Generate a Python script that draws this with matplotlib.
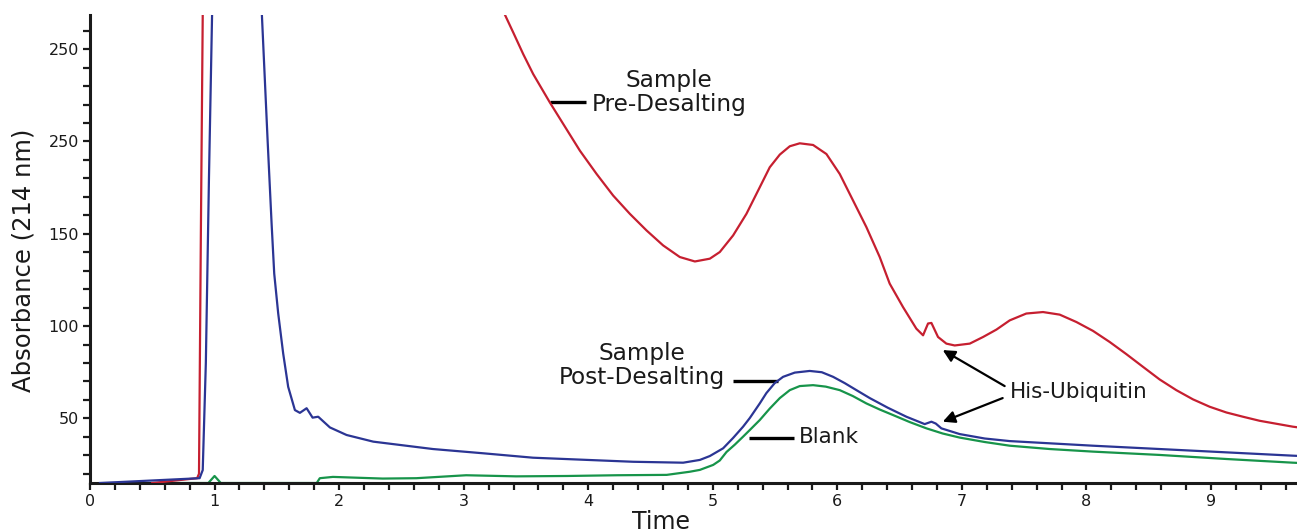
import matplotlib
matplotlib.use("Agg")
import matplotlib.pyplot as plt
from matplotlib.ticker import MultipleLocator, FixedLocator, FixedFormatter

# values (time, absorbance in axis units)
red_t = [0.5, 0.86, 0.875, 0.89, 0.905, 0.93, 2.95, 3.325, 3.398, 3.478, 3.558, 3.692,
         3.799, 3.933, 4.067, 4.2, 4.334, 4.468, 4.601, 4.735, 4.856, 4.976, 5.056,
         5.163, 5.27, 5.377, 5.457, 5.538, 5.618, 5.698, 5.805, 5.912, 6.019, 6.126,
         6.233, 6.34, 6.42, 6.527, 6.634, 6.688, 6.728, 6.755, 6.808, 6.875, 6.942,
         7.063, 7.17, 7.277, 7.384, 7.517, 7.651, 7.785, 7.919, 8.052, 8.186, 8.32,
         8.454, 8.587, 8.721, 8.855, 8.989, 9.123, 9.256, 9.39, 9.657, 9.69]
red_v = [15.0, 17.6, 20, 150, 268.5, 320, 320, 269.5, 259.0, 247.3, 236.5, 221.1,
         209.5, 195.0, 182.4, 170.7, 160.8, 151.8, 143.7, 137.4, 135.0, 136.5, 140.1,
         149.1, 160.8, 175.2, 186.0, 192.9, 197.4, 199.0, 198.1, 193.2, 182.4, 168.0,
         153.6, 137.4, 123.0, 110.3, 98.6, 95.0, 101.4, 101.7, 94.1, 90.5, 89.5,
         90.5, 94.1, 98.1, 103.1, 106.8, 107.6, 106.2, 102.2, 97.4, 91.4, 84.8,
         77.9, 71.1, 65.3, 60.3, 56.3, 53.2, 50.9, 48.7, 45.5, 45.2]

blue_t = [0.08, 0.88, 0.905, 0.93, 0.955, 0.98, 1.0, 1.36, 1.38, 1.426, 1.458, 1.479,
          1.511, 1.551, 1.591, 1.645, 1.685, 1.739, 1.787, 1.832, 1.926, 2.06, 2.274,
          2.753, 3.156, 3.557, 3.958, 4.36, 4.762, 4.896, 4.976, 5.083, 5.163, 5.243,
          5.297, 5.377, 5.43, 5.497, 5.564, 5.658, 5.778, 5.875, 5.966, 6.059, 6.153,
          6.26, 6.404, 6.554, 6.701, 6.755, 6.79, 6.835, 6.982, 7.183, 7.384, 8.052,
          8.855, 9.657, 9.69]
blue_v = [15, 17.6, 22, 80, 180, 268.5, 320, 320, 268.5, 200.4, 155.4, 128.4,
          106.8, 85.1, 67.1, 54.5, 53, 55.5, 50.4, 50.9, 45.1, 41, 37.4,
          33.4, 31.1, 28.7, 27.6, 26.5, 26.0, 27.5, 29.6, 33.8, 39.4, 45.5,
          50.2, 58.1, 63.7, 69.1, 72.5, 74.8, 75.7, 75.0, 72.5, 69.1, 65.3,
          61.0, 55.8, 50.9, 46.9, 48.2, 47.2, 44.6, 41.5, 39.1, 37.7, 35.2,
          32.5, 29.8, 29.7]

green_t = [0.5, 0.95, 1.0, 1.05, 1.82, 1.845, 1.95, 2.35, 2.62, 3.02, 3.42, 3.83, 4.23,
           4.63, 4.815, 4.896, 5.003, 5.056, 5.11, 5.177, 5.243, 5.297, 5.377, 5.457,
           5.538, 5.618, 5.698, 5.805, 5.907, 6.019, 6.124, 6.233, 6.34, 6.447, 6.581,
           6.715, 6.846, 6.982, 7.183, 7.384, 7.705, 8.052, 8.587, 9.123, 9.657, 9.69]
green_v = [15, 15, 18.8, 15, 15, 17.6, 18.3, 17.4, 17.6, 19.2, 18.6, 18.8, 19.2,
           19.4, 21.1, 22.1, 24.8, 27.2, 31.8, 35.8, 40.1, 43.7, 49.1, 55.3,
           61.0, 65.3, 67.5, 68.0, 67.2, 65.3, 62.1, 58.1, 54.8, 51.8, 48.0,
           44.6, 41.8, 39.6, 37.2, 35.2, 33.4, 32.0, 30.2, 28.0, 26.0, 25.9]

ytick_pos = [50, 100, 150, 200, 250]
ytick_labels = ["50", "100", "150", "250", "250"]
xtick_pos = list(range(10))

RED = "#C61F30"
BLUE = "#2B3594"
GREEN = "#17944A"
INK = "#1a1a1a"

fig = plt.figure(figsize=(12.97, 5.32), dpi=100)
ax = fig.add_axes([90 / 1297, 49 / 532, 1 - 90 / 1297, 468 / 532])

ax.plot(red_t, red_v, color=RED, lw=1.6, zorder=3)
ax.plot(blue_t, blue_v, color=BLUE, lw=1.6, zorder=3)
ax.plot(green_t, green_v, color=GREEN, lw=1.6, zorder=2)

ax.set_xlim(0, 9.69)
ax.set_ylim(15, 268.5)

for s in ["top", "right"]:
    ax.spines[s].set_visible(False)
for s in ["left", "bottom"]:
    ax.spines[s].set_linewidth(2.2)
    ax.spines[s].set_color(INK)

ax.xaxis.set_major_locator(FixedLocator(xtick_pos))
ax.xaxis.set_minor_locator(MultipleLocator(0.2))
ax.yaxis.set_major_locator(FixedLocator(ytick_pos))
ax.yaxis.set_major_formatter(FixedFormatter(ytick_labels))
ax.yaxis.set_minor_locator(MultipleLocator(10))
ax.tick_params(which="both", direction="out", length=5, width=1.6, color=INK)
ax.tick_params(axis="both", labelsize=11.5, labelcolor=INK, pad=3)

ax.set_xlabel("Time", fontsize=17, color=INK)
ax.xaxis.set_label_coords(0.473, -0.058)
ax.set_ylabel("Absorbance (214 nm)", fontsize=17.5, color=INK)
ax.yaxis.set_label_coords(-0.045, 0.475)

# leader lines and labels
big = 16.7
ax.plot([3.692, 3.981], [221.5, 221.5], color="black", lw=2.4, solid_capstyle="butt")
ax.text(4.647, 226.5, "Sample\nPre-Desalting", ha="center", va="center",
        multialignment="center", fontsize=big, color=INK, linespacing=1.05)

ax.plot([5.161, 5.522], [70.3, 70.3], color="black", lw=2.4, solid_capstyle="butt")
ax.text(4.434, 78.5, "Sample\nPost-Desalting", ha="center", va="center",
        multialignment="center", fontsize=big, color=INK, linespacing=1.05)

ax.plot([5.289, 5.650], [39.2, 39.2], color="black", lw=2.4, solid_capstyle="butt")
ax.text(5.69, 39.9, "Blank", ha="left", va="center", fontsize=15.5, color=INK)

ax.text(7.384, 64.2, "His-Ubiquitin", ha="left", va="center", fontsize=15.5, color=INK)
for tail, head in [((7.343, 67.5), (6.846, 87.0)), ((7.327, 61.0), (6.846, 48.2))]:
    ax.annotate("", xy=head, xytext=tail,
                arrowprops=dict(arrowstyle="-|>", color="black", lw=1.6,
                                mutation_scale=18, shrinkA=0, shrinkB=0))

fig.savefig("out.png", dpi=100)
